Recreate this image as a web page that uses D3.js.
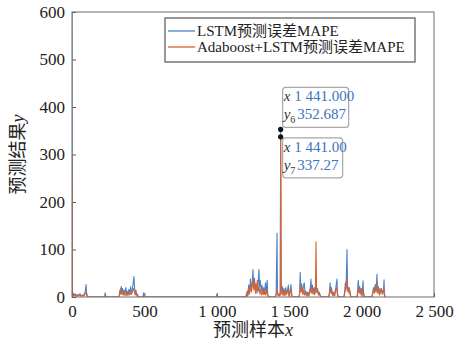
<!DOCTYPE html>
<html lang="zh">
<head>
<meta charset="UTF-8">
<title>MAPE</title>
<style>
  body { margin: 0; background: #fff; }
  svg { display: block; font-family: "Liberation Serif", "Noto Sans CJK SC", serif; }
</style>
</head>
<body>
<svg id="chart" width="464" height="347"></svg>
<script src="https://d3js.org/d3.v7.min.js"></script>
<script>
// sample index / error value
const lstmPoints = [
  [0, 620], [2, 12], [6, 4], [12, 8], [18, 3], [25, 6], [32, 2], [40, 5], [48, 3], [55, 7], [62, 2],
  [70, 4], [78, 3], [85, 6], [92, 12], [97, 26], [101, 8], [106, 2], [112, 0],
  [225, 0], [229, 9], [233, 2], [237, 0],
  [325, 0], [330, 14], [335, 6], [340, 22], [345, 10], [350, 18], [355, 5], [360, 14], [366, 8],
  [372, 20], [377, 6], [382, 12], [387, 4], [393, 16], [399, 7], [405, 22], [410, 9], [416, 14],
  [422, 28], [428, 43], [432, 20], [437, 8], [442, 14], [447, 4], [452, 6], [458, 0],
  [490, 0], [495, 9], [500, 0],
  [996, 0], [1000, 5], [1004, 0],
  [1200, 0], [1205, 6], [1210, 12], [1215, 4], [1220, 25], [1226, 10], [1232, 38], [1238, 15],
  [1244, 30], [1250, 58], [1254, 20], [1260, 40], [1266, 12], [1272, 28], [1278, 8], [1284, 22],
  [1291, 58], [1295, 22], [1300, 35], [1306, 12], [1312, 25], [1318, 8], [1324, 20], [1330, 6],
  [1336, 30], [1342, 10], [1348, 35], [1352, 5], [1358, 0],
  [1405, 0], [1410, 8], [1416, 134], [1419, 10], [1424, 4], [1429, 6], [1434, 3], [1438, 12],
  [1441, 352.687], [1445, 10], [1452, 22], [1458, 6], [1464, 18], [1470, 4], [1476, 20], [1482, 8],
  [1488, 14], [1494, 25], [1499, 5], [1506, 12], [1512, 26], [1518, 4], [1524, 0],
  [1568, 0], [1572, 10], [1576, 52], [1580, 12], [1586, 28], [1592, 8], [1598, 22], [1604, 30],
  [1610, 6], [1616, 12], [1622, 4], [1628, 10], [1634, 3], [1640, 12], [1646, 18], [1650, 38],
  [1655, 15], [1660, 25], [1666, 10], [1672, 20], [1678, 8], [1684, 30], [1690, 12], [1696, 18],
  [1702, 6], [1708, 10], [1714, 3], [1720, 0],
  [1772, 0], [1777, 8], [1782, 30], [1787, 12], [1792, 20], [1798, 5], [1804, 10], [1810, 3],
  [1816, 12], [1822, 20], [1830, 38], [1834, 6], [1840, 0],
  [1878, 0], [1883, 12], [1888, 30], [1893, 18], [1899, 100], [1903, 25], [1908, 12], [1914, 20],
  [1920, 6], [1926, 0],
  [1968, 0], [1972, 10], [1977, 35], [1982, 14], [1987, 22], [1992, 8], [1997, 18], [2004, 6],
  [2010, 34], [2014, 8], [2020, 0],
  [2070, 0], [2076, 8], [2082, 20], [2088, 10], [2094, 26], [2100, 15], [2106, 48], [2110, 12],
  [2116, 22], [2122, 6], [2128, 18], [2134, 10], [2140, 14], [2146, 6], [2152, 20], [2155, 36],
  [2158, 8], [2162, 0]
];

const adaPoints = [
  [0, 300], [2, 6], [8, 3], [15, 5], [22, 2], [30, 4], [40, 2], [50, 5], [60, 2], [70, 3], [80, 2],
  [90, 6], [97, 10], [102, 3], [112, 0],
  [325, 0], [331, 8], [336, 18], [341, 6], [347, 12], [353, 4], [360, 10], [366, 3], [373, 8],
  [380, 3], [388, 10], [395, 4], [402, 8], [410, 5], [418, 12], [425, 18], [430, 12], [436, 4],
  [443, 8], [450, 2], [458, 0],
  [1200, 0], [1207, 6], [1213, 2], [1219, 18], [1225, 6], [1232, 25], [1238, 10], [1244, 20],
  [1250, 40], [1256, 15], [1262, 30], [1268, 8], [1274, 18], [1280, 35], [1286, 12], [1292, 22],
  [1298, 6], [1304, 15], [1310, 4], [1318, 12], [1324, 5], [1332, 18], [1338, 4], [1346, 14],
  [1352, 3], [1358, 0],
  [1405, 0], [1410, 6], [1416, 15], [1420, 4], [1426, 3], [1432, 5], [1436, 2], [1439, 8],
  [1441, 337.27], [1444, 6], [1451, 15], [1457, 3], [1463, 12], [1469, 3], [1475, 14], [1481, 5],
  [1487, 10], [1493, 15], [1498, 3], [1505, 8], [1512, 16], [1518, 3], [1524, 0],
  [1568, 0], [1573, 8], [1578, 25], [1583, 10], [1589, 18], [1595, 5], [1601, 15], [1607, 4],
  [1614, 8], [1621, 2], [1628, 6], [1635, 2], [1641, 8], [1646, 20], [1652, 8], [1658, 18],
  [1664, 6], [1670, 12], [1676, 5], [1681, 15], [1685, 116], [1689, 10], [1695, 14], [1702, 4],
  [1710, 6], [1716, 2], [1722, 0],
  [1772, 0], [1778, 6], [1784, 18], [1789, 8], [1795, 12], [1801, 3], [1808, 6], [1815, 3],
  [1821, 15], [1827, 20], [1833, 4], [1840, 0],
  [1878, 0], [1884, 8], [1890, 18], [1896, 40], [1901, 12], [1907, 20], [1913, 8], [1919, 14],
  [1924, 3], [1930, 0],
  [1968, 0], [1974, 8], [1979, 20], [1985, 8], [1991, 14], [1997, 4], [2003, 18], [2009, 10],
  [2014, 6], [2020, 0],
  [2070, 0], [2077, 6], [2083, 14], [2089, 8], [2095, 18], [2101, 10], [2107, 30], [2112, 8],
  [2118, 15], [2124, 4], [2130, 10], [2136, 18], [2142, 6], [2148, 12], [2154, 16], [2158, 3],
  [2162, 0]
];

const seriesNames = ["LSTM预测误差MAPE", "Adaboost+LSTM预测误差MAPE"];
const seriesColors = ["#4f80c4", "#d9622f"];
const xTicks = [0, 500, 1000, 1500, 2000, 2500];
const yTicks = [0, 100, 200, 300, 400, 500, 600];
// data tips: [x, y, subscript, digits]
const dataTips = [
  [1441, 352.687, "6", 3],
  [1441, 337.27, "7", 2]
];

const svg = d3.select("#chart");
const margin = {top: 12, right: 30, bottom: 50, left: 72};
const width = +svg.attr("width");
const height = +svg.attr("height");
const innerW = width - margin.left - margin.right;
const innerH = height - margin.top - margin.bottom;

const loc = d3.formatLocale({decimal: ".", thousands: " ", grouping: [3], currency: ["", ""]});
const fmtTick = loc.format(",d");

const x = d3.scaleLinear().domain([0, 2500]).range([0, innerW]);
const y = d3.scaleLinear().domain([0, 600]).range([innerH, 0]);

const g = svg.append("g").attr("transform", `translate(${margin.left},${margin.top})`);

g.append("defs").append("clipPath").attr("id", "clip")
  .append("rect").attr("width", innerW).attr("height", innerH);

// axes, ticks pointing inward
const xAxis = g.append("g").attr("transform", `translate(0,${innerH})`)
  .call(d3.axisBottom(x).tickValues(xTicks).tickFormat(fmtTick).tickSizeInner(-4).tickSizeOuter(0).tickPadding(8));
const yAxis = g.append("g")
  .call(d3.axisLeft(y).tickValues(yTicks).tickFormat(fmtTick).tickSizeInner(-4).tickSizeOuter(0).tickPadding(7));
[xAxis, yAxis].forEach(a => {
  a.attr("font-family", null).attr("font-size", null);
  a.select(".domain").remove();
  a.selectAll(".tick line").attr("stroke", "#555");
  a.selectAll(".tick text")
    .style("font-family", "'Liberation Serif', 'DejaVu Serif', serif")
    .style("font-size", "17px")
    .attr("fill", "#222");
});

// lines
const line = d3.line().x(d => x(d[0])).y(d => y(d[1]));
[lstmPoints, adaPoints].forEach((pts, i) => {
  g.append("path")
    .datum(pts)
    .attr("clip-path", "url(#clip)")
    .attr("d", line)
    .attr("fill", "none")
    .attr("stroke", seriesColors[i])
    .attr("stroke-width", 1.1)
    .attr("stroke-linejoin", "round");
});

// frame
g.append("rect").attr("width", innerW).attr("height", innerH)
  .attr("fill", "none").attr("stroke", "#6b6b6b").attr("stroke-width", 1);

// legend
const leg = g.append("g").attr("transform", "translate(93,6)");
leg.append("rect").attr("width", 250).attr("height", 44)
  .attr("fill", "#fff").attr("stroke", "#555").attr("stroke-width", 1.2);
seriesNames.forEach((name, i) => {
  const yy = 13 + i * 16;
  leg.append("line").attr("x1", 3).attr("x2", 30).attr("y1", yy).attr("y2", yy)
    .attr("stroke", seriesColors[i]).attr("stroke-width", 1.3);
  leg.append("text").attr("x", 32).attr("y", yy + 5)
    .attr("font-size", 15).attr("fill", "#222").text(name);
});

// data tips
dataTips.forEach((d, i) => {
  const px = x(d[0]), py = y(d[1]);
  const bx = px + 2, by = i === 0 ? py - 42 : py + 1;
  const bw = i === 0 ? 66 : 60;
  const tip = g.append("g");
  tip.append("rect").attr("x", bx).attr("y", by).attr("width", bw).attr("height", 40)
    .attr("rx", 3).attr("fill", "#fff").attr("fill-opacity", 0.92)
    .attr("stroke", "#a8a8a8").attr("stroke-width", 1.2);
  const fmtVal = loc.format(`,.${d[3]}f`);
  const t1 = tip.append("text").attr("x", bx + 1).attr("y", by + 14).attr("font-size", 15);
  t1.append("tspan").attr("font-style", "italic").attr("fill", "#333").text("x");
  t1.append("tspan").attr("dx", 4).attr("fill", "#3d72bd").text(fmtVal(d[0]));
  const t2 = tip.append("text").attr("x", bx + 1).attr("y", by + 32).attr("font-size", 15);
  t2.append("tspan").attr("font-style", "italic").attr("fill", "#333").text("y");
  t2.append("tspan").attr("font-size", 10).attr("dy", 4).attr("fill", "#333").text(d[2]);
  t2.append("tspan").attr("dx", 2).attr("dy", -4).attr("fill", "#3d72bd").text(fmtVal(d[1]));
});
dataTips.forEach(d => {
  g.append("circle").attr("cx", x(d[0])).attr("cy", y(d[1])).attr("r", 2.6).attr("fill", "#111");
});

// axis titles
const xt = svg.append("text").attr("x", margin.left + innerW / 2).attr("y", 336)
  .attr("text-anchor", "middle").attr("font-size", 18).attr("fill", "#222");
xt.append("tspan").text("预测样本");
xt.append("tspan").attr("font-style", "italic").text("x");

const yt = svg.append("text")
  .attr("transform", `translate(24,${margin.top + innerH / 2}) rotate(-90)`)
  .attr("text-anchor", "middle").attr("font-size", 18).attr("fill", "#222");
yt.append("tspan").text("预测结果");
yt.append("tspan").attr("font-style", "italic").text("y");
</script>
</body>
</html>
